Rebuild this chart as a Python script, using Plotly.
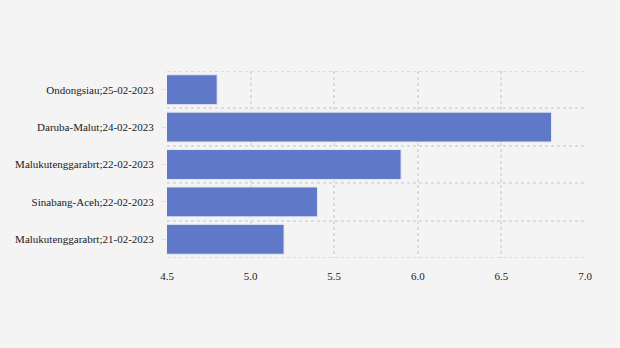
import plotly.graph_objects as go

# Stations ordered bottom to top, with their recorded values
stations = [
    "Malukutenggarabrt;21-02-2023",
    "Sinabang-Aceh;22-02-2023",
    "Malukutenggarabrt;22-02-2023",
    "Daruba-Malut;24-02-2023",
    "Ondongsiau;25-02-2023",
]
values = [5.2, 5.4, 5.9, 6.8, 4.8]
x_ticks = [4.5, 5.0, 5.5, 6.0, 6.5, 7.0]

positions = list(range(len(stations)))

fig = go.Figure(
    go.Bar(
        x=values,
        y=positions,
        base=0,
        orientation="h",
        marker=dict(color="#5f79c8", line=dict(color="#e6eaf5", width=1)),
        width=0.8,
        hoverinfo="x+text",
        hovertext=stations,
    )
)

grid = dict(gridcolor="#dcdcdc", gridwidth=2, griddash="dot")

fig.update_layout(
    width=620,
    height=348,
    margin=dict(l=167, r=35, t=71, b=90),
    paper_bgcolor="#f4f4f4",
    plot_bgcolor="#f4f4f4",
    font=dict(family="Liberation Serif, Times New Roman, serif", size=11, color="#1a1a1a"),
    showlegend=False,
    xaxis=dict(
        range=[4.5, 7.0],
        tickvals=x_ticks,
        tickformat=".1f",
        showgrid=True,
        zeroline=False,
        showline=False,
        ticks="outside",
        ticklen=8,
        tickcolor="rgba(0,0,0,0)",
        **grid,
    ),
    yaxis=dict(
        range=[-0.5, len(stations) - 0.5],
        tickvals=positions,
        ticktext=stations,
        showgrid=False,
        zeroline=False,
        showline=False,
        ticks="outside",
        ticklen=5,
        tickcolor="#e0e0e0",
        ticklabelstandoff=5,
        minor=dict(tick0=0.5, dtick=1, showgrid=True, ticks="", **grid),
    ),
)

# Close the frame along the top and bottom category edges
fig.add_shape(type="line", xref="paper", yref="y", x0=0, x1=1, y0=len(stations) - 0.5,
              y1=len(stations) - 0.5, line=dict(color="#dcdcdc", width=2, dash="dot"), layer="below")
fig.add_shape(type="line", xref="paper", yref="y", x0=0, x1=1, y0=-0.5,
              y1=-0.5, line=dict(color="#dcdcdc", width=2, dash="dot"), layer="below")

fig.write_html("out.html")
